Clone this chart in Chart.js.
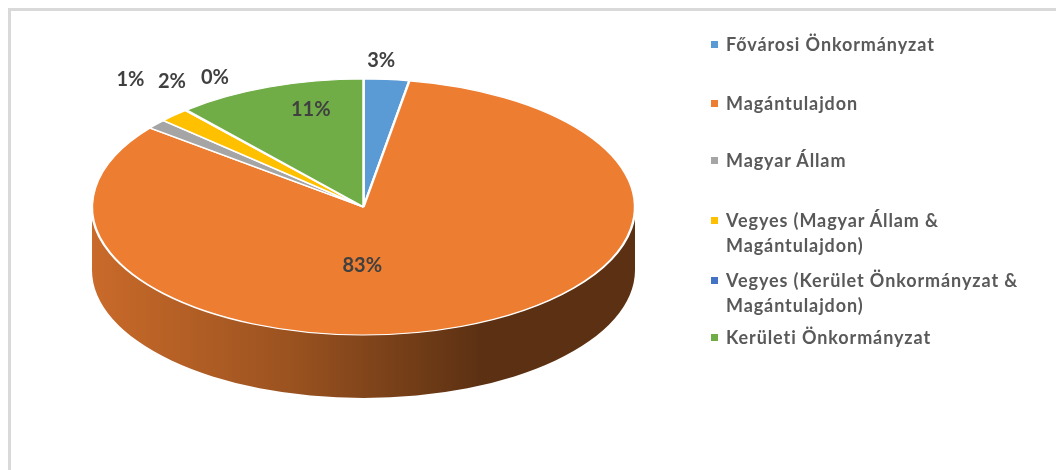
<!DOCTYPE html>
<html>
<head>
<meta charset="utf-8">
<script src="https://cdn.jsdelivr.net/npm/chart.js@4.4.0/dist/chart.umd.min.js"></script>
<style>
  html, body { margin: 0; padding: 0; background: #fff; overflow: hidden; }
  body { width: 1056px; height: 470px; position: relative; font-family: Lato, 'Open Sans', sans-serif; }
  #frame { position: absolute; left: 8px; top: 8px; width: 1200px; height: 600px; border: 3px solid #d9d9d9; box-sizing: border-box; }
  #pie { position: absolute; left: 0; top: 0; }
  #legend { position: absolute; left: 711px; top: 0; width: 340px; }
  .item { position: absolute; left: 0; display: flex; align-items: flex-start; font-weight: 700; font-size: 18px; letter-spacing: 0.9px; line-height: 25px; color: #595959; }
  .item .txt { max-width: 305px; }
  .box { width: 7px; height: 7px; margin: 9px 8px 0 0; flex: none; }
</style>
</head>
<body>
<div id="frame"></div>
<canvas id="pie" width="1056" height="470"></canvas>
<div id="legend"></div>
<script>
// adatok
const categories = [
  'Fővárosi Önkormányzat',
  'Magántulajdon',
  'Magyar Állam',
  'Vegyes (Magyar Állam & Magántulajdon)',
  'Vegyes (Kerület Önkormányzat & Magántulajdon)',
  'Kerületi Önkormányzat'
];
const shares = [2.7, 82.9, 1.2, 1.8, 0.1, 11.3];
const pctLabels = ['3%', '83%', '1%', '2%', '0%', '11%'];

const sliceColors = ['#5b9bd5', '#ed7d31', '#a5a5a5', '#ffc000', '#4472c4', '#70ad47'];

// felirat elhelyezés: sugár-arány + kis eltolás
const labelPlace = [
  { f: 1.16, dx: -9, dy: 1 },
  { f: 0.49, dx: -49, dy: 0 },
  { f: 1.0, dx: -26, dy: -45 },
  { f: 1.0, dx: -2, dy: -34 },
  { f: 1.0, dx: 29, dy: -33 },
  { f: 0.76, dx: 19, dy: -6 }
];
const legendTops = [32, 91, 148, 208, 268, 325];

const TILT = 128 / 271.5;   // ellipszis lapítás
const DEPTH = 63;           // oldalfal magassága

function shade(hex, k) {
  const n = parseInt(hex.slice(1), 16);
  const r = Math.round(((n >> 16) & 255) * k);
  const g = Math.round(((n >> 8) & 255) * k);
  const b = Math.round((n & 255) * k);
  return `rgb(${r},${g},${b})`;
}

const tilt3d = {
  id: 'tilt3d',
  beforeDatasetsDraw(chart) {
    const ctx = chart.ctx;
    const arcs = chart.getDatasetMeta(0).data;
    const { x: cx, y: cy, outerRadius: r } = arcs[0];
    ctx.save();
    ctx.translate(cx, cy);
    ctx.scale(1, TILT);
    ctx.translate(-cx, -cy);
    const d = DEPTH / TILT;
    arcs.forEach((arc, i) => {
      const a0 = Math.max(arc.startAngle, 0);
      const a1 = Math.min(arc.endAngle, Math.PI);
      if (a1 <= a0) return;
      const g = ctx.createLinearGradient(cx - r, 0, cx + 0.43 * r, 0);
      g.addColorStop(0, shade(sliceColors[i], 0.85));
      g.addColorStop(0.5, shade(sliceColors[i], 0.66));
      g.addColorStop(1, shade(sliceColors[i], 0.39));
      ctx.beginPath();
      ctx.arc(cx, cy, r, a0, a1);
      ctx.arc(cx, cy + d, r, a1, a0, true);
      ctx.closePath();
      ctx.fillStyle = g;
      ctx.fill();
    });
  },
  afterDatasetsDraw(chart) {
    const ctx = chart.ctx;
    ctx.restore();
    const arcs = chart.getDatasetMeta(0).data;
    ctx.save();
    ctx.font = 'bold 20px Lato, "Open Sans", sans-serif';
    ctx.fillStyle = '#404040';
    ctx.textAlign = 'center';
    ctx.textBaseline = 'middle';
    arcs.forEach((arc, i) => {
      const mid = (arc.startAngle + arc.endAngle) / 2;
      const p = labelPlace[i];
      const x = arc.x + Math.cos(mid) * arc.outerRadius * p.f + p.dx;
      const y = arc.y + Math.sin(mid) * arc.outerRadius * p.f * TILT + p.dy;
      ctx.fillText(pctLabels[i], x, y);
    });
    ctx.restore();
  }
};

new Chart(document.getElementById('pie').getContext('2d'), {
  type: 'pie',
  data: {
    labels: categories,
    datasets: [{
      data: shares,
      backgroundColor: sliceColors,
      borderColor: '#ffffff',
      borderWidth: 2.5,
      clip: false
    }]
  },
  options: {
    responsive: false,
    animation: false,
    radius: 271.5,
    layout: { padding: { left: 0, top: 0, right: 1056 - 727, bottom: 470 - 414 } },
    plugins: {
      legend: { display: false },
      tooltip: { enabled: false }
    }
  },
  plugins: [tilt3d]
});

// jelmagyarázat
const legend = document.getElementById('legend');
categories.forEach((name, i) => {
  const item = document.createElement('div');
  item.className = 'item';
  item.style.top = legendTops[i] + 'px';
  const box = document.createElement('span');
  box.className = 'box';
  box.style.background = sliceColors[i];
  const txt = document.createElement('span');
  txt.className = 'txt';
  txt.textContent = name;
  item.appendChild(box);
  item.appendChild(txt);
  legend.appendChild(item);
});
</script>
</body>
</html>
